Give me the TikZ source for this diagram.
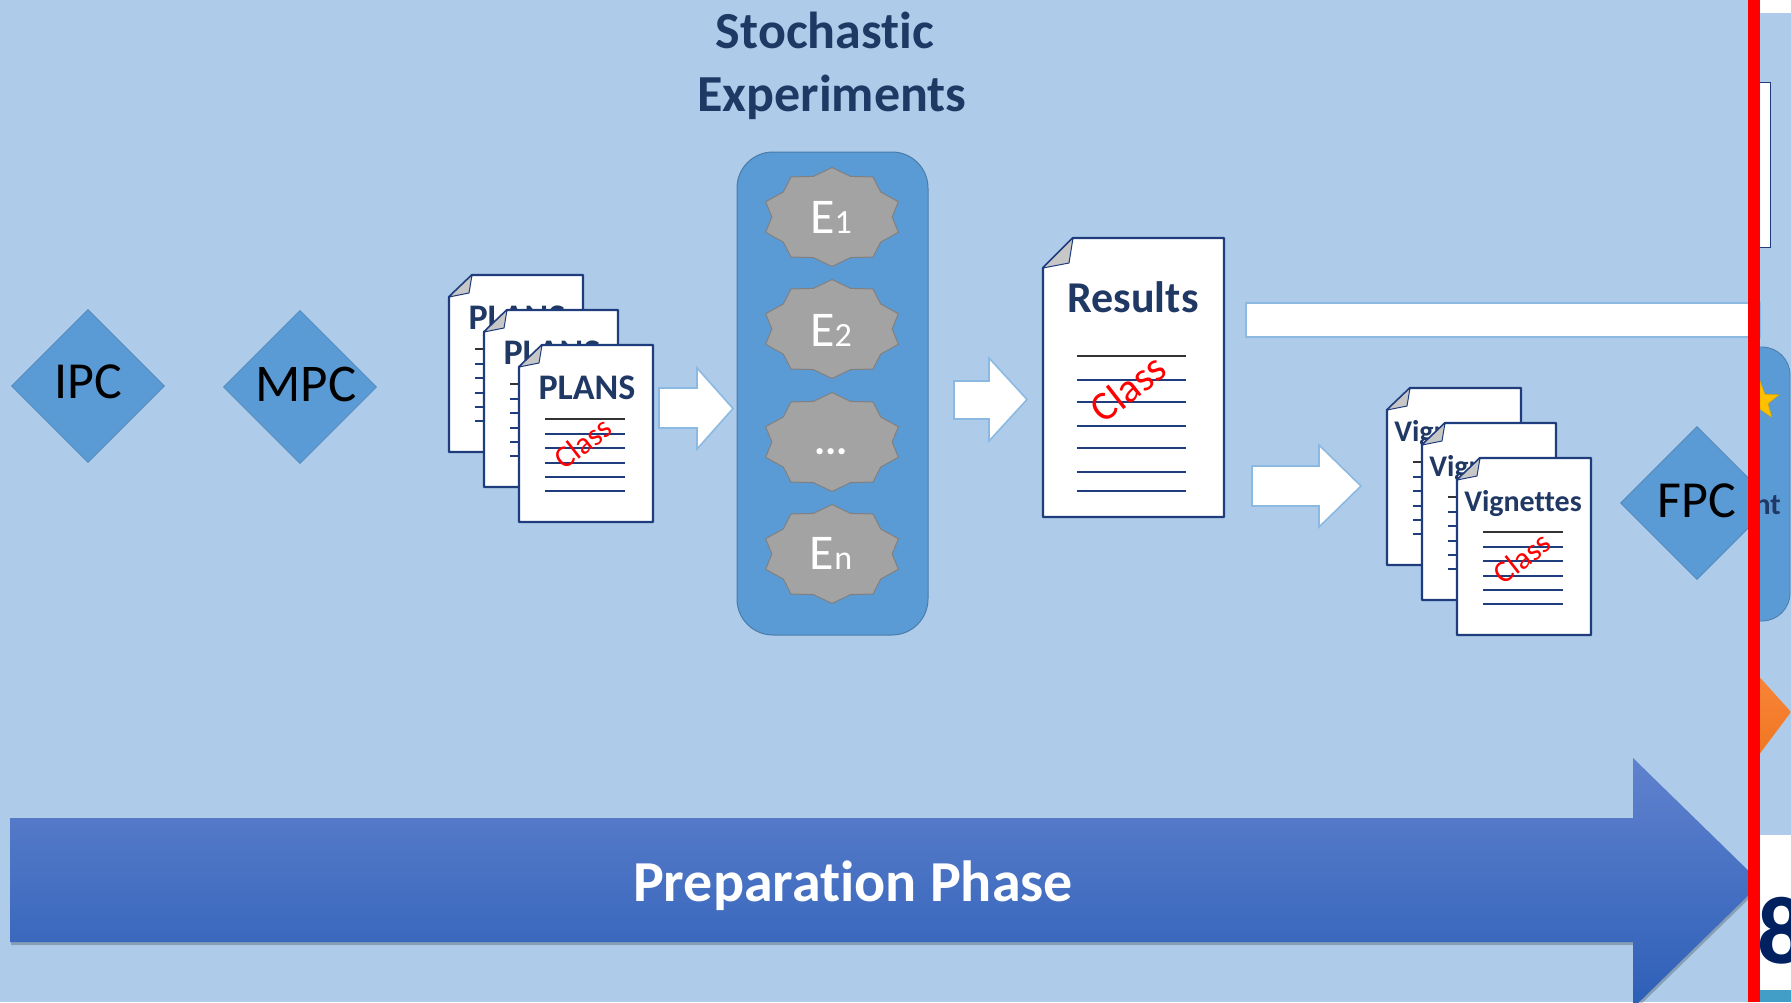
\documentclass[tikz,border=0pt]{standalone}
\usepackage{fontspec}
\setmainfont{Carlito}[Ligatures=NoCommon]
\usetikzlibrary{shapes.geometric,shadows}
\definecolor{bgblue}{HTML}{AECCE9}
\definecolor{boxblue}{HTML}{5B9BD5}
\definecolor{pagenavy}{HTML}{1F3C7C}
\definecolor{titlenavy}{HTML}{203864}
\definecolor{gold}{HTML}{FFC000}
\definecolor{darknavy}{HTML}{002060}
\newcommand{\fs}[1]{\fontsize{#1}{#1}\selectfont}
\tikzset{
	pagebox/.style={draw=pagenavy, fill=white, line width=2.2pt, line join=round},
	curl/.style={draw=pagenavy, fill=black!22, line width=1pt, line join=round},
	rule/.style={draw=pagenavy, line width=1.6pt},
	toprule/.style={draw=black!80, line width=1.6pt},
	stamp/.style={text=red, inner sep=0pt, rotate=38},
	doctitle/.style={text=titlenavy, font=\bfseries, inner sep=0pt},
	gate/.style={diamond, draw=boxblue!85!black, fill=boxblue, line width=.6pt, minimum width=153pt, minimum height=153pt, inner sep=0pt, aspect=1},
	seal/.style={star, star points=10, star point ratio=1.16, draw=black!50, fill=black!36, line width=1pt, minimum size=99pt, inner sep=0pt, xscale=1.41},
	seallabel/.style={text=white, inner sep=0pt},
	blockarrow/.style={draw=boxblue!70!white, fill=white, line width=1.6pt, line join=miter},
}
\begin{document}
\begin{tikzpicture}[x=1pt, y=-1pt]

\clip (0,0) rectangle (1791,1002);
\fill[bgblue] (0,0) rectangle (1791,1002);

\node[doctitle, font=\bfseries\fs{52}] (title1) at(825,30) {Stochastic};
\node[doctitle, font=\bfseries\fs{52}] (title2) at(832,97) {Experiments};

% gates
\node[gate] (ipc) at(88,386) {\raisebox{8pt}{\fs{52}IPC}};
\node[gate] (mpc) at(300,387) {\hspace*{12pt}\raisebox{6pt}{\fs{53}MPC}};
\node[gate] (fpc) at(1697,503) {\raisebox{4pt}{\fs{52}FPC}};

% experiments
\draw[draw=boxblue!80!black, fill=boxblue, line width=1pt, rounded corners=36pt] (737,152) rectangle (928,635);
\foreach [count=\i] \y/\ly/\txt in {
	217/217/{\fs{50}E\fs{34}1}
	,329/330/{\fs{50}E\fs{34}2}
	,442/452/{\bfseries\fs{42}...}
	,554/553/{\fs{50}E\fs{34}n}
}{
	\node[seal] (seal\i) at(832,\y) {};
	\node[seallabel] (label\i) at(831,\ly) {\txt};
}

% stacked pages
\foreach [count=\i] \x/\y/\word/\sz/\tx/\ty/\cx/\cy in {
	449/275/PLANS/36/68/43/64/98
	,484/310/PLANS/36/68/43/64/98
	,519/345/PLANS/36/68/43/64/98
	,1387/388/Vignettes/30/66/46/65/100
	,1422/423/Vignettes/30/66/46/65/100
	,1457/458/Vignettes/30/66/46/65/100
}{
	\draw[pagebox] (\x+23,\y) -- (\x+134,\y) -- (\x+134,\y+177) -- (\x,\y+177) -- (\x,\y+22) -- cycle;
	\draw[curl] (\x+23,\y) -- (\x+20,\y+18) -- (\x,\y+22) -- cycle;
	\node[doctitle, font=\bfseries\fs{\sz}] (word\i) at(\x+\tx,\y+\ty) {\word};
	\draw[toprule] (\x+26,\y+74) -- (\x+106,\y+74);
	\foreach \d in {89,103,118,132,146}{
		\draw[rule] (\x+26,\y+\d) -- (\x+106,\y+\d);
	}
	\node[stamp, font=\fs{31}] (class\i) at(\x+\cx,\y+\cy) {Class};
}

% results
\draw[pagebox] (1073,238) -- (1224,238) -- (1224,517) -- (1043,517) -- (1043,268) -- cycle;
\draw[curl] (1073,238) -- (1069,263) -- (1043,268) -- cycle;
\node[doctitle, font=\bfseries\fs{44}] (results) at(1133,297) {Results};
\draw[toprule] (1077,356) -- (1186,356);
\foreach \y in {380,402,426,448,472,491}{
	\draw[rule] (1077,\y) -- (1186,\y);
}
\node[stamp, font=\fs{41}] (class7) at(1128,388) {Class};

% arrows
\foreach \l/\n/\t/\st/\sb/\ht/\hb in {
	659/697/733/388/428/368/449
	,954/989/1027/381/419/358/441
	,1252/1319/1361/466/506/445/527
}{
	\draw[blockarrow] (\l,\st) -- (\n,\st) -- (\n,\ht) -- (\t,{(\ht+\hb)/2}) -- (\n,\hb) -- (\n,\sb) -- (\l,\sb) -- cycle;
}
\draw[blockarrow] (1246,303) rectangle (1760,337);

% phase arrow
\fill[black, opacity=.22] (11,821) -- (1634,821) -- (1634,761) -- (1762,886) -- (1634,1011) -- (1634,945) -- (11,945) -- cycle;
\draw[draw=none, top color={rgb,255:red,96;green,130;blue,206}, bottom color={rgb,255:red,45;green,95;blue,183}] (10,818) -- (1633,818) -- (1633,758) -- (1761,883) -- (1633,1008) -- (1633,942) -- (10,942) -- cycle;
\node[text=white, font=\bfseries\fs{58}, inner sep=0pt] (phase) at(853,886) {Preparation Phase};

% strip on the right
\begin{scope}
\clip (1760,0) rectangle (1791,1002);
\fill[white] (1760,0) rectangle (1791,13);
\draw[draw=pagenavy, fill=white, line width=1pt] (1700,82) rectangle (1770,247);
\draw[draw=boxblue!80!black, fill=boxblue, line width=.8pt, rounded corners=28pt] (1700,347) rectangle (1790,621);
\node[star, star points=5, star point ratio=2.4, fill=gold, draw=gold!85!black, line width=.5pt, minimum size=40pt, inner sep=0pt] (award) at(1760,401) {};
\node[text=titlenavy, font=\bfseries\fs{30}, inner sep=0pt, anchor=east] (cut) at(1781,505) {nt};
\draw[draw=none, top color={rgb,255:red,249;green,133;blue,57}, bottom color={rgb,255:red,238;green,118;blue,32}] (1755,672) -- (1791,712) -- (1755,760) -- cycle;
\fill[white] (1760,835) rectangle (1791,990);
\fill[boxblue!80!cyan!90!black] (1760,990) rectangle (1791,1002);
\node[text=darknavy, font=\bfseries\fs{96}, inner sep=0pt, anchor=west] (page) at(1757,931) {8};
\end{scope}
\fill[red] (1748,0) rectangle (1760,1002);

\end{tikzpicture}
\end{document}
